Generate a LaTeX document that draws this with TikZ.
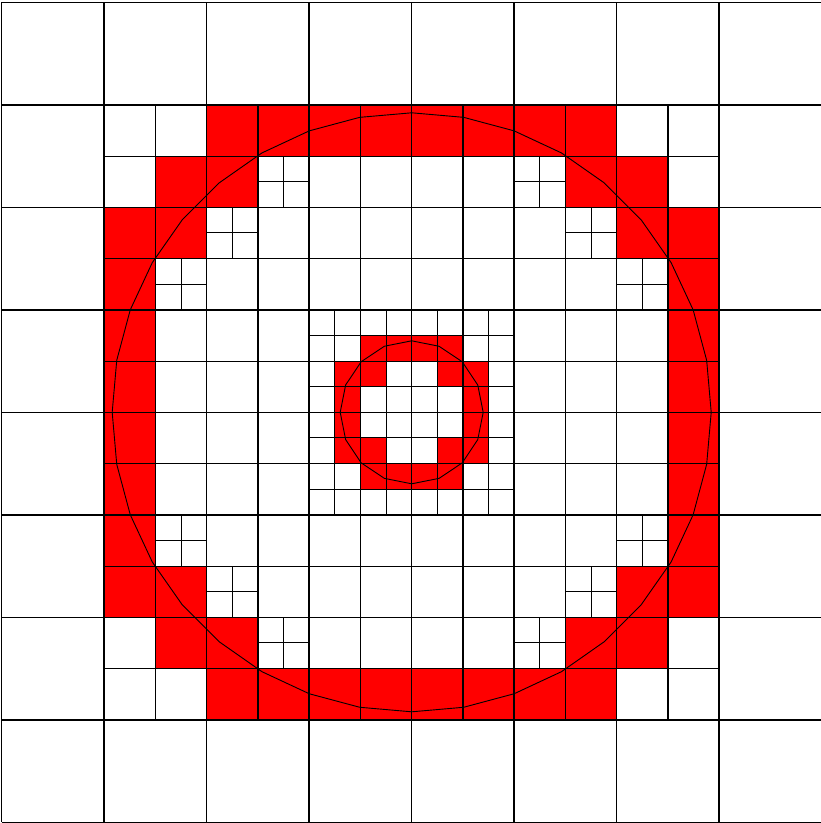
\documentclass[tikz,border=0pt]{standalone}
\begin{document}
\begin{tikzpicture}[x=51.25pt,y=-51.25pt,
  redcell/.style={fill=red},
  medline/.style={draw=black,line width=1.1pt},
  fineline/.style={draw=black,line width=1.0pt},
  coarseline/.style={draw=black,line width=1.5pt},
  ring/.style={draw=black,line width=0.9pt}]
\useasboundingbox (-1.7pt,2.3pt) rectangle ++(821pt,-823pt);
% red medium cells
\foreach \c in {4,...,11} {
  \fill[redcell] (\c,2) rectangle ++(1,1);
  \fill[redcell] (\c,13) rectangle ++(1,1);
}
\foreach \r in {4,...,11} {
  \fill[redcell] (2,\r) rectangle ++(1,1);
  \fill[redcell] (13,\r) rectangle ++(1,1);
}
\foreach \c/\r in {3/3,4/3,11/3,12/3,3/4,12/4,3/11,12/11,3/12,4/12,11/12,12/12}
  \fill[redcell] (\c,\r) rectangle ++(1,1);
% red small cells in the centre
\foreach \i/\j in {2/1,3/1,4/1,5/1,1/2,2/2,5/2,6/2,1/3,6/3,1/4,6/4,1/5,2/5,5/5,6/5,2/6,3/6,4/6,5/6}
  \fill[redcell] ({6+0.5*\i},{6+0.5*\j}) rectangle ++(0.5,0.5);
% medium grid
\foreach \k in {3,5,7,9,11,13} {
  \draw[medline] (\k,2) -- (\k,14);
  \draw[medline] (2,\k) -- (14,\k);
}
% refined medium cells
\foreach \c/\r in {5/3,10/3,4/4,11/4,3/5,12/5,3/10,12/10,4/11,11/11,5/12,10/12}
  \draw[fineline] ({\c+0.5},\r) -- ++(0,1) (\c,{\r+0.5}) -- ++(1,0);
% refined centre block
\foreach \k in {6.5,7.5,8.5,9.5} {
  \draw[fineline] (\k,6) -- (\k,10);
  \draw[fineline] (6,\k) -- (10,\k);
}
% coarse grid
\foreach \k in {0,2,...,16} {
  \draw[coarseline] (\k,0) -- (\k,16);
  \draw[coarseline] (0,\k) -- (16,\k);
}
% circles
\draw[ring] plot[samples=37,domain=0:360,variable=\t] ({8+5.844*cos(\t)},{8+5.844*sin(\t)}) -- cycle;
\draw[ring] plot[samples=17,domain=0:360,variable=\t] ({8+1.395*cos(\t)},{8+1.395*sin(\t)}) -- cycle;
\end{tikzpicture}
\end{document}
